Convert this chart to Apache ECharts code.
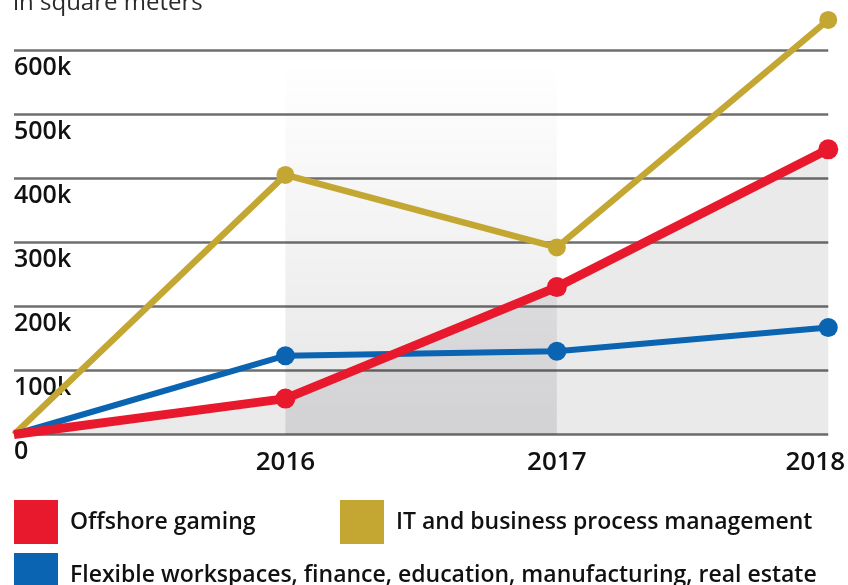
<!DOCTYPE html>
<html>
<head>
<meta charset="utf-8">
<script src="https://cdn.jsdelivr.net/npm/echarts@6/dist/echarts.min.js"></script>
<style>
  html, body { margin: 0; padding: 0; background: #fff; }
  #chart { width: 848px; height: 585px; }
</style>
</head>
<body>
<div id="chart"></div>
<script>
// Years on the horizontal axis (first slot is the starting baseline)
const years = ['', '2016', '2017', '2018'];

// Leased office space, square meters
const offshoreGaming = [0, 56000, 230000, 445000];
const itBpm = [0, 405000, 292000, 647000];
const flexibleEtc = [0, 123000, 130000, 167000];

const seriesNames = [
  'Offshore gaming',
  'IT and business process management',
  'Flexible workspaces, finance, education, manufacturing, real estate'
];

const RED = '#e8192c';
const GOLD = '#c4a733';
const BLUE = '#0b64b2';
const FONT = '"Open Sans", sans-serif';

const chart = echarts.init(document.getElementById('chart'));

// hide the marker at the shared starting point
const markerSize = (size) => (v, p) => (p.dataIndex === 0 ? 0 : size);

const legendBase = {
  selectedMode: false,
  icon: 'rect',
  padding: 0,
  itemWidth: 44,
  itemHeight: 44,
  textStyle: { fontFamily: FONT, fontWeight: 600, fontSize: 23, color: '#111', padding: [0, 0, 0, 7] }
};

chart.setOption({
  animation: false,
  grid: { left: 14, right: 19, top: 50, bottom: 150.5 },
  graphic: [{
    type: 'text',
    x: 13,
    y: 15,
    style: { text: 'in square meters', font: '400 24px ' + FONT, fill: '#2a2a2a', verticalAlign: 'bottom' }
  }],
  legend: [
    Object.assign({ left: 14, top: 500, data: [seriesNames[0]] }, legendBase),
    Object.assign({ left: 340, top: 500, data: [seriesNames[1]] }, legendBase),
    Object.assign({ left: 14, top: 553, data: [seriesNames[2]] }, legendBase)
  ],
  xAxis: {
    type: 'category',
    data: years,
    boundaryGap: false,
    axisLine: { show: false },
    axisTick: { show: false },
    splitLine: { show: false },
    axisLabel: {
      fontFamily: FONT, fontWeight: 600, fontSize: 26, color: '#111', margin: 15,
      formatter: (v, i) => (i === years.length - 1 ? '{last|' + v + '}' : v),
      rich: { last: { fontFamily: FONT, fontWeight: 600, fontSize: 26, color: '#111', padding: [0, 26, 0, 0] } }
    }
  },
  yAxis: {
    type: 'value',
    min: 0,
    max: 600000,
    interval: 100000,
    axisLine: { show: false },
    axisTick: { show: false },
    splitLine: { lineStyle: { color: '#6e6e6e', width: 2.5 } },
    axisLabel: {
      inside: true,
      margin: 0,
      verticalAlign: 'top',
      padding: [5, 0, 0, 0],
      fontFamily: FONT, fontWeight: 600, fontSize: 25, color: '#111',
      formatter: (v) => (v === 0 ? '0' : v / 1000 + 'k')
    }
  },
  series: [
    {
      // shaded area beneath offshore gaming, plus the 2016–2017 band
      type: 'line',
      data: offshoreGaming,
      z: 1,
      silent: true,
      symbol: 'none',
      lineStyle: { width: 0 },
      areaStyle: { color: 'rgba(40,40,50,0.14)' },
      markArea: {
        silent: true,
        itemStyle: {
          color: new echarts.graphic.LinearGradient(0, 0, 0, 1, [
            { offset: 0, color: 'rgba(40,40,50,0)' },
            { offset: 1, color: 'rgba(40,40,50,0.12)' }
          ])
        },
        data: [[{ xAxis: '2016', yAxis: 0 }, { xAxis: '2017', yAxis: 580000 }]]
      },
      tooltip: { show: false }
    },
    {
      name: seriesNames[1],
      type: 'line',
      data: itBpm,
      z: 3,
      clip: false,
      symbol: 'circle',
      symbolSize: markerSize(18),
      color: GOLD,
      lineStyle: { color: GOLD, width: 6.5 }
    },
    {
      name: seriesNames[2],
      type: 'line',
      data: flexibleEtc,
      z: 4,
      clip: false,
      symbol: 'circle',
      symbolSize: markerSize(19),
      color: BLUE,
      lineStyle: { color: BLUE, width: 6 }
    },
    {
      name: seriesNames[0],
      type: 'line',
      data: offshoreGaming,
      z: 5,
      clip: false,
      symbol: 'circle',
      symbolSize: markerSize(20),
      color: RED,
      lineStyle: { color: RED, width: 9 }
    }
  ]
});
</script>
</body>
</html>
